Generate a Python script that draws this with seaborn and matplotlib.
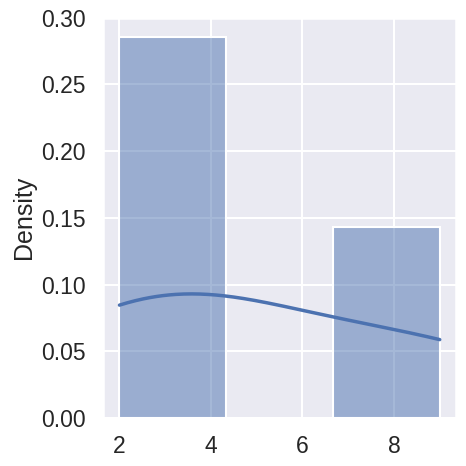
import matplotlib
matplotlib.use("Agg")
import matplotlib.pyplot as plt
import seaborn as sns
import pandas as pd

values = [2, 4, 9]

sns.set_theme(style="darkgrid", context="talk")
plt.rcParams["font.family"] = ["Liberation Sans", "DejaVu Sans"]
df = pd.DataFrame({"x": values})

fig, ax = plt.subplots(figsize=(4.66, 4.66), dpi=100)
sns.histplot(data=df, x="x", bins=3, stat="density", kde=True, ax=ax,
             line_kws={"linewidth": 2.5})
ax.set_xlabel("")
ax.set_ylabel("Density")
ax.set_ylim(0, 0.30)
fig.subplots_adjust(left=0.222, right=0.978, top=0.962, bottom=0.103)
fig.savefig("out.png", dpi=100)
